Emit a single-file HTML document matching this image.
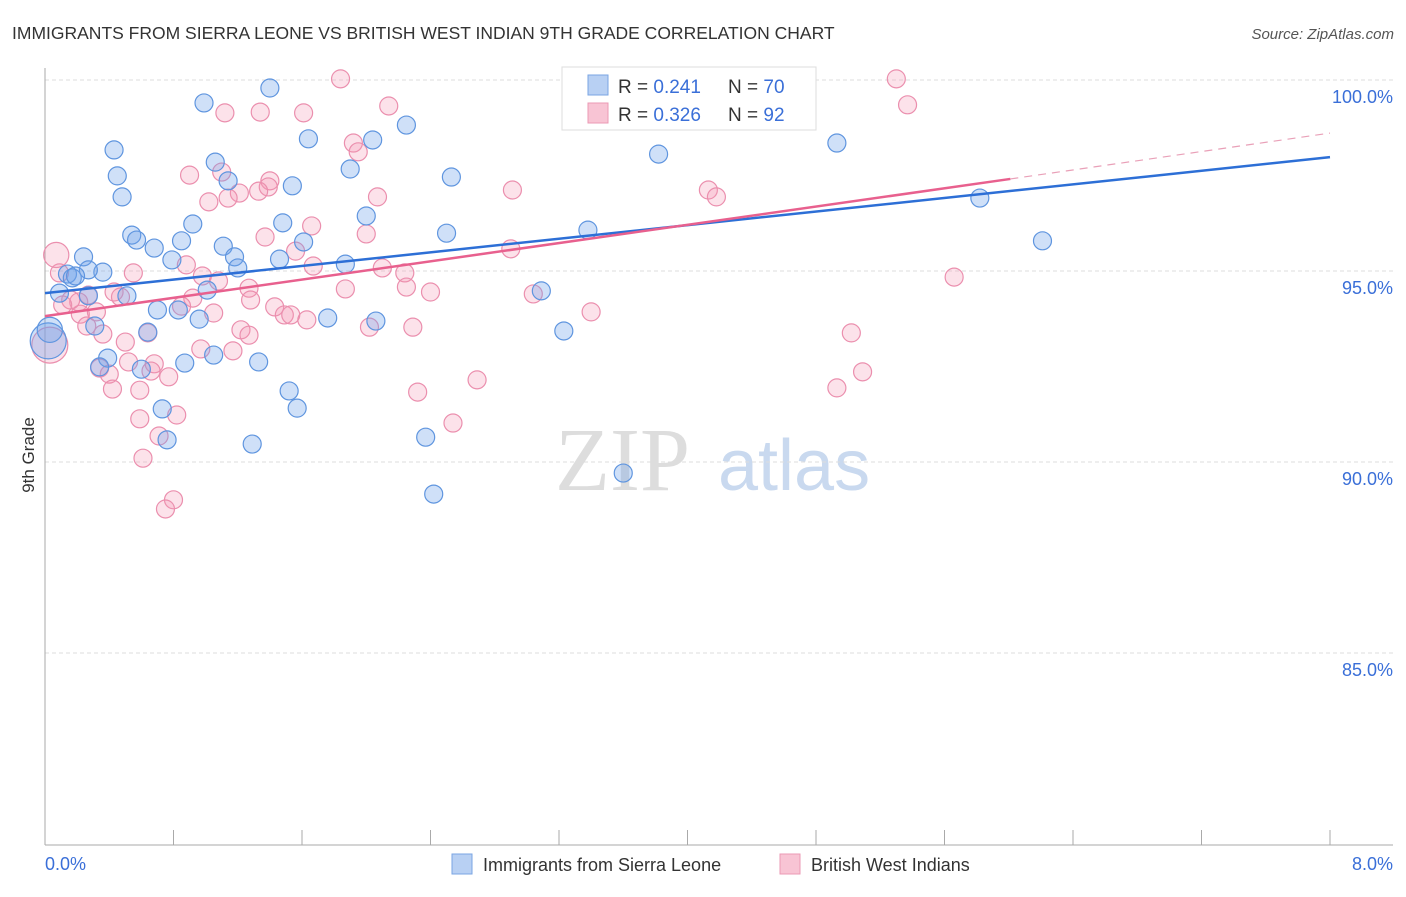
<!DOCTYPE html>
<html><head><meta charset="utf-8"><style>
body{margin:0;background:#fff;font-family:"Liberation Sans",sans-serif}
</style></head><body>
<svg id="c" width="1406" height="892" xmlns="http://www.w3.org/2000/svg">
<text x="12" y="39" font-size="17.5" fill="#333">IMMIGRANTS FROM SIERRA LEONE VS BRITISH WEST INDIAN 9TH GRADE CORRELATION CHART</text>
<text x="1394" y="39" font-size="15" fill="#555" text-anchor="end" font-style="italic">Source: ZipAtlas.com</text>
<text x="34" y="455" font-size="17" fill="#333" transform="rotate(-90 34 455)" text-anchor="middle">9th Grade</text>
<g><text x="555" y="490" font-size="90" fill="#ddd" font-family="Liberation Serif">ZIP</text><text x="718" y="490" font-size="72" fill="#c9d9ef">atlas</text></g>
<g id="grid"></g><g id="axes"></g><g id="pts"></g><g id="lines"></g>
<g>
<rect x="562" y="67" width="254" height="63" fill="#fff" stroke="#ddd"/>
<rect x="588" y="75" width="20" height="20" fill="#b8d0f3" stroke="#7aa5e3"/>
<rect x="588" y="103" width="20" height="20" fill="#f8c4d4" stroke="#eb9ab4"/>
<text x="618" y="93" font-size="19" fill="#333">R = <tspan fill="#3a6fd8">0.241</tspan><tspan x="728">N = </tspan><tspan fill="#3a6fd8">70</tspan></text>
<text x="618" y="121" font-size="19" fill="#333">R = <tspan fill="#3a6fd8">0.326</tspan><tspan x="728">N = </tspan><tspan fill="#3a6fd8">92</tspan></text>
</g>
<g>
<rect x="452" y="854" width="20" height="20" fill="#b8d0f3" stroke="#7aa5e3"/>
<text x="483" y="871" font-size="18" fill="#333">Immigrants from Sierra Leone</text>
<rect x="780" y="854" width="20" height="20" fill="#f8c4d4" stroke="#eb9ab4"/>
<text x="811" y="871" font-size="18" fill="#333">British West Indians</text>
</g>
</svg>
<script>
const yTicks=[100,95,90,85];
const yTickLabels=["100.0%","95.0%","90.0%","85.0%"];
const xTickLabels=["0.0%","8.0%"];
const blueX=[1.40,0.99,0.43,0.45,0.48,1.64,2.04,2.25,1.06,1.14,1.54,1.90,2.53,2.00,1.48,0.92,0.54,0.57,0.68,0.85,1.11,1.61,2.50,3.38,3.82,4.93,5.82,6.21,0.24,0.79,1.18,1.20,1.46,1.87,0.36,0.14,0.17,0.09,0.27,0.51,1.01,3.09,0.70,0.83,0.96,1.76,2.06,0.31,0.64,3.23,0.39,0.34,0.60,0.87,1.05,1.33,1.52,1.57,0.73,0.76,1.29,2.37,2.42,3.60,3.34,4.33,0.27,0.19,0.02,0.03];
const blueY=[99.79,99.40,98.17,97.49,96.94,98.46,98.43,98.82,97.85,97.36,97.23,97.67,97.46,96.44,96.26,96.23,95.94,95.81,95.60,95.79,95.65,95.76,95.99,96.07,98.06,98.35,96.91,95.79,95.37,95.29,95.37,95.08,95.31,95.18,94.97,94.92,94.82,94.42,94.35,94.35,94.50,94.48,93.98,93.98,93.74,93.77,93.69,93.56,93.40,93.43,92.72,92.49,92.43,92.59,92.80,92.62,91.86,91.41,91.39,90.58,90.47,90.65,89.16,89.71,100.0,100.0,95.03,94.87,93.17,93.46];
const blueSize=[1,1,1,1,1,1,1,1,1,1,1,1,1,1,1,1,1,1,1,1,1,1,1,1,1,1,1,1,1,1,1,1,1,1,1,1,1,1,1,1,1,1,1,1,1,1,1,1,1,1,1,1,1,1,1,1,1,1,1,1,1,1,1,1,1,1,1,1,2,1.4];
const pinkX=[1.84,5.30,5.37,1.12,1.34,1.61,2.14,1.92,1.95,0.90,1.10,1.40,1.39,1.21,1.33,1.02,1.14,2.07,2.91,4.13,4.18,1.66,2.00,1.37,1.56,2.90,0.88,0.55,1.67,2.10,2.24,0.98,1.08,1.27,1.87,2.25,2.40,3.04,0.09,0.27,0.43,0.47,0.92,1.05,0.85,1.43,1.49,1.53,1.63,0.22,0.32,2.02,2.29,3.40,5.66,5.02,0.26,0.36,0.64,1.22,1.27,0.50,0.97,1.17,0.68,0.52,0.34,0.40,0.66,0.77,0.42,2.32,2.69,4.93,5.09,0.59,0.82,2.54,0.71,0.61,0.80,0.75,0.21,0.16,0.11,1.28,0.59,3.36,0.07,0.03];
const pinkY=[100.03,100.03,99.35,99.14,99.16,99.14,99.32,98.35,98.12,97.51,97.59,97.36,97.20,97.04,97.09,96.81,96.91,96.94,97.12,97.12,96.94,96.18,95.97,95.89,95.52,95.58,95.16,94.95,95.13,95.08,94.95,94.87,94.74,94.55,94.53,94.58,94.45,94.40,94.95,94.37,94.45,94.32,94.29,93.90,94.08,94.06,93.85,93.85,93.72,93.87,93.93,93.53,93.53,93.93,94.84,93.38,93.56,93.35,93.38,93.46,93.32,93.14,92.96,92.91,92.57,92.62,92.46,92.30,92.38,92.23,91.91,91.83,92.15,91.94,92.36,91.13,91.23,91.02,90.68,90.10,89.01,88.77,94.19,94.24,94.11,94.24,91.88,99.03,95.42,93.06];
const pinkSize=pinkX.map((v,i)=>i>=pinkX.length-2?(i==pinkX.length-1?2:1.4):1);
const blueTrend=[[0,94.42],[8,97.98]];
const pinkTrend=[[0,93.82],[6.01,97.41]];
const pinkTrendExt=[[6.01,97.41],[8,98.61]];
const X=v=>45+v/8*1285, Y=v=>80+(100-v)/5*191;
const NS="http://www.w3.org/2000/svg";
function mk(t,a,p){const e=document.createElementNS(NS,t);for(const k in a)e.setAttribute(k,a[k]);p.appendChild(e);return e;}
const grid=document.getElementById('grid'),axes=document.getElementById('axes'),pts=document.getElementById('pts'),lines=document.getElementById('lines');
yTicks.forEach((t,i)=>{const l=mk('line',{x1:45,x2:1393,y1:Y(t),y2:Y(t),stroke:'#ddd','stroke-dasharray':'4 3'},grid);


const tx=mk('text',{x:1393,y:Y(t)+23,'font-size':18,fill:'#3a6fd8','text-anchor':'end'},axes);tx.textContent=yTickLabels[i];

});
const ax=mk('line',{x1:45,x2:45,y1:68,y2:845,stroke:'#aaa'},axes);


const bx=mk('line',{x1:45,x2:1393,y1:845,y2:845,stroke:'#aaa'},axes);


for(let i=0;i<=10;i++){const t=mk('line',{x1:X(i*0.8),x2:X(i*0.8),y1:830,y2:845,stroke:'#aaa'},axes);

}
[[0,45,'start'],[8,1393,'end']].forEach((d,i)=>{const t=mk('text',{x:d[1],y:870,'font-size':18,fill:'#3a6fd8','text-anchor':d[2]},axes);t.textContent=xTickLabels[i];

});
function dots(xs,ys,ss,fill,stroke,name){xs.forEach((v,i)=>{const c=mk('circle',{cx:X(v),cy:Y(ys[i]),r:9*ss[i],fill:fill,stroke:stroke,'stroke-width':1.2},pts);

});}
dots(pinkX,pinkY,pinkSize,'rgba(244,150,180,0.28)','#eb8fae','bwi-point');
dots(blueX,blueY,blueSize,'rgba(110,160,235,0.33)','#5f95df','sierra-leone-point');
function ln(d,col,w,dash,name){const l=mk('line',{x1:X(d[0][0]),y1:Y(d[0][1]),x2:X(d[1][0]),y2:Y(d[1][1]),stroke:col,'stroke-width':w},lines);if(dash)l.setAttribute('stroke-dasharray',dash);

}
ln(blueTrend,'#2d6fd6',2.5,null,'sierra-leone-trendline');
ln(pinkTrend,'#e8608e',2.5,null,'bwi-trendline');
ln(pinkTrendExt,'#e9a0b8',1.2,'8 6','bwi-trendline-extension');
</script>
</body></html>
